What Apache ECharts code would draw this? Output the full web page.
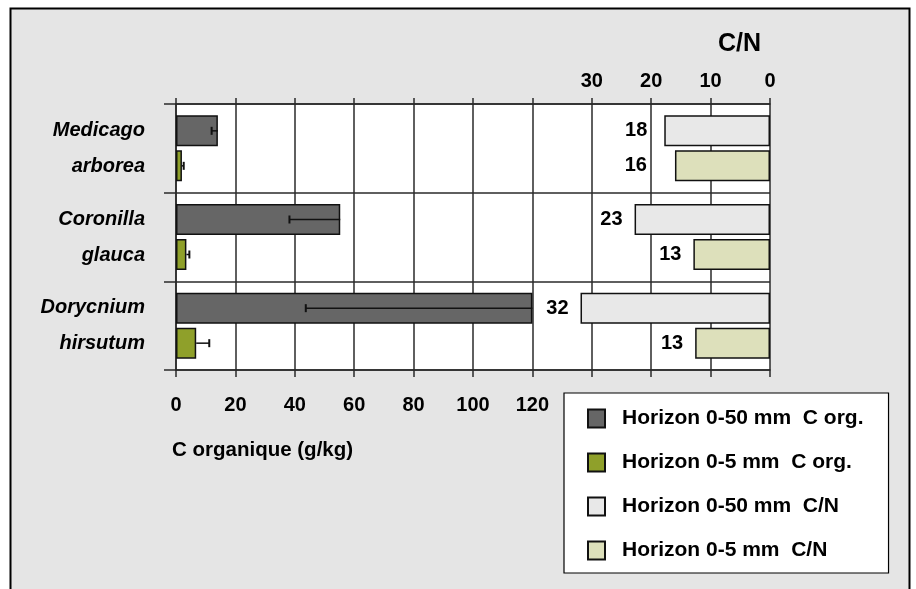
<!DOCTYPE html>
<html>
<head>
<meta charset="utf-8">
<script src="https://cdn.jsdelivr.net/npm/echarts@6/dist/echarts.min.js"></script>
<style>
html,body{margin:0;padding:0;background:#fff;}
#chart{width:916px;height:589px;}
</style>
</head>
<body>
<div id="chart"></div>
<script>
// ---- Data ----
const categories = ['Medicago\narborea', 'Coronilla\nglauca', 'Dorycnium\nhirsutum'];
const seriesNames = ['Horizon 0-50 mm  C org.', 'Horizon 0-5 mm  C org.', 'Horizon 0-50 mm  C/N', 'Horizon 0-5 mm  C/N'];
const corg50 = [14.1, 55.3, 120];       // g/kg
const corg50ErrMinus = [2.1, 17.1, 76.3];
const corg5 = [2.0, 3.5, 6.8];          // g/kg
const corg5ErrPlus = [0.6, 1.0, 4.4];
const cn50 = [17.8, 22.8, 31.9];
const cn5 = [16.0, 12.9, 12.6];
const corgTicks = [0, 20, 40, 60, 80, 100, 120];
const cnTicks = [0, 10, 20, 30];

// ---- Styles ----
const FONT = "'Liberation Sans', Arial, Helvetica, sans-serif";
const LINE = '#2a2a2a';
const BAR_W = 31;
const GAP_PX = 4;
const colors = ['#666666', '#8fa02a', '#e8e8e8', '#dde0bb'];

const errData = [];
corg50.forEach((v, i) => errData.push([i, v, v - corg50ErrMinus[i], 0]));
corg5.forEach((v, i) => errData.push([i, v, v + corg5ErrPlus[i], 1]));

const cnLabelExtra = [5, 16]; // first category labels sit further left in the reference

function cnData(arr, extra) {
  return arr.map((v, i) => i === 0 ? { value: v, label: { distance: 12 + extra } } : v);
}

const chart = echarts.init(document.getElementById('chart'), null, { renderer: 'canvas' });

const barCommon = {
  type: 'bar',
  barWidth: BAR_W,
  barGap: (GAP_PX / BAR_W * 100) + '%',
  animation: false
};

chart.setOption({
  animation: false,
  textStyle: { fontFamily: FONT },
  graphic: [
    {
      type: 'rect', z: -10, silent: true,
      shape: { x: 10.5, y: 8.5, width: 899, height: 640 },
      style: { fill: '#e5e5e5', stroke: '#000', lineWidth: 2 }
    },
    {
      type: 'text', left: 718, top: 32, z: 10,
      style: { text: 'C/N', font: "bold 25px " + FONT, fill: '#000' }
    },
    {
      type: 'text', left: 172, top: 440, z: 10,
      style: { text: 'C organique (g/kg)', font: "bold 20.5px " + FONT, fill: '#000' }
    }
  ],
  grid: {
    left: 176, right: 146, top: 104, bottom: 219,
    show: true, backgroundColor: '#fff', borderWidth: 0
  },
  legend: {
    data: seriesNames,
    orient: 'vertical',
    left: 564, top: 393,
    backgroundColor: '#fff',
    borderColor: '#000', borderWidth: 1.2, borderRadius: 0,
    padding: [15, 25, 12, 23],
    itemWidth: 17, itemHeight: 18, itemGap: 23,
    icon: 'rect',
    textStyle: { fontSize: 21, fontWeight: 'bold', color: '#000', fontFamily: FONT, padding: [0, 0, 0, 12], lineHeight: 18 }
  },
  xAxis: [
    {
      type: 'value', min: 0, max: 200, interval: 20, position: 'bottom',
      axisLine: { show: true, lineStyle: { color: LINE, width: 1.5 } },
      axisTick: { show: true, length: 7, lineStyle: { color: LINE, width: 1.5 } },
      splitLine: { show: true, lineStyle: { color: LINE, width: 1.5 } },
      axisLabel: {
        fontSize: 20, fontWeight: 'bold', color: '#000', margin: 25, fontFamily: FONT,
        formatter: v => corgTicks.indexOf(v) >= 0 ? String(v) : ''
      }
    },
    {
      type: 'value', min: 0, max: 100, interval: 10, position: 'top', inverse: true,
      axisLine: { show: true, lineStyle: { color: LINE, width: 1.5 } },
      axisTick: { show: true, length: 6, lineStyle: { color: LINE, width: 1.5 } },
      splitLine: { show: false },
      axisLabel: {
        fontSize: 20, fontWeight: 'bold', color: '#000', margin: 13, fontFamily: FONT,
        formatter: v => cnTicks.indexOf(v) >= 0 ? String(v) : ''
      }
    }
  ],
  yAxis: [
    {
      type: 'category', data: categories, inverse: true,
      axisLine: { show: true, lineStyle: { color: LINE, width: 1.5 } },
      axisTick: { show: true, length: 12, lineStyle: { color: LINE, width: 1.5 } },
      splitLine: { show: true, lineStyle: { color: LINE, width: 1.5 } },
      axisLabel: {
        fontSize: 20, fontWeight: 'bold', fontStyle: 'italic', color: '#000',
        lineHeight: 36, margin: 31, align: 'right', fontFamily: FONT
      }
    },
    {
      type: 'category', data: categories, inverse: true, show: false
    }
  ],
  series: [
    Object.assign({}, barCommon, {
      name: seriesNames[0], xAxisIndex: 0, yAxisIndex: 0, data: corg50,
      itemStyle: { color: colors[0], borderColor: '#111', borderWidth: 1.5 }
    }),
    Object.assign({}, barCommon, {
      name: seriesNames[1], xAxisIndex: 0, yAxisIndex: 0, data: corg5,
      itemStyle: { color: colors[1], borderColor: '#111', borderWidth: 1.5 }
    }),
    Object.assign({}, barCommon, {
      name: seriesNames[2], xAxisIndex: 1, yAxisIndex: 1, data: cnData(cn50, cnLabelExtra[0]),
      itemStyle: { color: colors[2], borderColor: '#111', borderWidth: 1.5 },
      label: {
        show: true, position: 'left', distance: 12, fontSize: 20, fontWeight: 'bold', color: '#000', fontFamily: FONT,
        formatter: p => Math.round(p.value)
      }
    }),
    Object.assign({}, barCommon, {
      name: seriesNames[3], xAxisIndex: 1, yAxisIndex: 1, data: cnData(cn5, cnLabelExtra[1]),
      itemStyle: { color: colors[3], borderColor: '#111', borderWidth: 1.5 },
      label: {
        show: true, position: 'left', distance: 12, fontSize: 20, fontWeight: 'bold', color: '#000', fontFamily: FONT,
        formatter: p => Math.round(p.value)
      }
    }),
    {
      type: 'custom', name: 'err', xAxisIndex: 0, yAxisIndex: 0, z: 5,
      encode: { x: [1, 2], y: 0 },
      data: errData,
      renderItem: function (params, api) {
        const cat = api.value(0);
        const slot = api.value(3);
        const off = (slot === 0 ? -1 : 1) * (BAR_W + GAP_PX) / 2;
        const a = api.coord([api.value(1), cat]);
        const b = api.coord([api.value(2), cat]);
        const y = a[1] + off;
        const capH = 8;
        return {
          type: 'group',
          children: [
            { type: 'line', shape: { x1: a[0], y1: y, x2: b[0], y2: y }, style: { stroke: '#111', lineWidth: 1.5 } },
            { type: 'line', shape: { x1: b[0], y1: y - capH / 2, x2: b[0], y2: y + capH / 2 }, style: { stroke: '#111', lineWidth: 2 } }
          ]
        };
      }
    }
  ]
});
</script>
</body>
</html>
